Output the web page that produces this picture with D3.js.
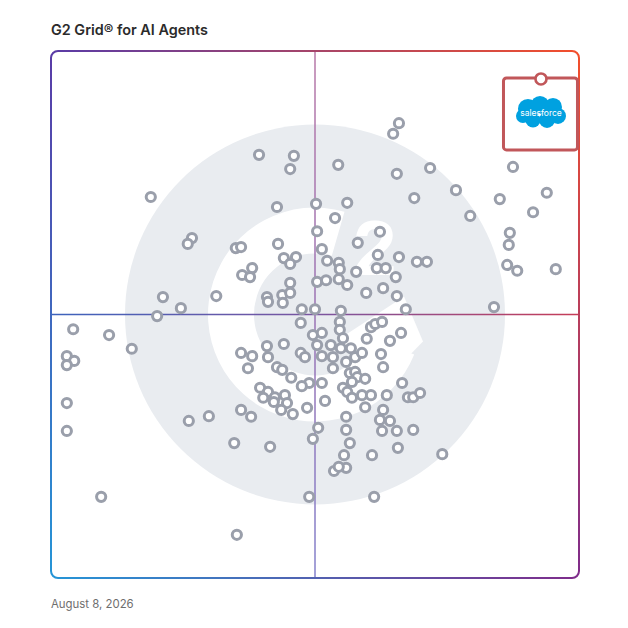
<!DOCTYPE html>
<html>
<head>
<meta charset="utf-8">
<script src="https://cdn.jsdelivr.net/npm/d3@7"></script>
<style>
  body { margin: 0; background: #fff; }
  svg { display: block; font-family: Inter, "Noto Sans", sans-serif; }
</style>
</head>
<body>
<svg id="chart" width="628" height="628"></svg>
<script>
// G2 grid: x = satisfaction, y = market presence (both 0-100)
const satisfaction = [
  65.9, 64.8, 39.4, 46.0, 45.3, 54.4, 71.8, 65.5, 87.5, 76.7,
  85.0, 93.9, 68.8, 18.9, 42.8, 50.2, 56.1, 79.4, 91.3, 53.8,
  50.4, 62.3, 86.9, 58.1, 26.7, 25.9, 35.0, 36.0, 43.0, 86.7,
  51.3, 65.9, 61.9, 69.3, 71.2, 44.1, 46.4, 45.3, 52.3, 54.5,
  54.7, 57.8, 61.7, 63.4, 65.3, 86.4, 88.3, 95.6, 38.1, 36.2,
  37.7, 45.3, 50.4, 52.1, 54.5, 56.1, 62.9, 59.7, 65.5, 67.2,
  83.9, 31.3, 21.2, 24.6, 20.1, 40.9, 41.1, 43.8, 45.3, 43.9,
  47.5, 50.0, 54.9, 4.2, 11.0, 15.3, 47.3, 54.7, 49.6, 51.3,
  54.7, 60.6, 61.4, 62.7, 66.3, 64.2, 3.0, 4.4, 3.0, 36.0,
  38.1, 40.9, 41.1, 44.1, 47.3, 48.1, 50.4, 53.0, 55.3, 54.9,
  56.8, 51.3, 53.4, 55.9, 57.6, 58.9, 53.4, 51.3, 59.8, 62.5,
  37.3, 42.8, 43.8, 45.5, 62.9, 56.6, 57.6, 58.0, 57.0, 59.5,
  48.9, 47.5, 55.3, 56.1, 57.0, 58.9, 60.6, 59.5, 63.6, 66.5,
  67.6, 68.6, 69.9, 51.9, 48.5, 39.6, 41.1, 40.2, 42.4, 44.3,
  42.2, 44.7, 43.6, 45.8, 36.0, 37.9, 3.0, 26.1, 29.9, 62.9,
  55.9, 62.3, 64.2, 50.6, 49.6, 55.9, 62.7, 65.5, 68.6, 3.0,
  34.7, 41.5, 56.6, 65.7, 55.5, 60.8, 74.1, 55.9, 53.6, 54.5,
  48.9, 61.2, 9.5, 35.2
];
const marketPresence = [
  86.3, 84.3, 80.3, 80.1, 77.6, 78.4, 77.8, 76.7, 78.0, 73.6,
  71.9, 73.1, 72.1, 72.3, 70.4, 71.0, 71.2, 68.7, 69.4, 68.3,
  65.8, 65.7, 65.5, 63.6, 64.5, 63.4, 62.6, 62.8, 63.4, 63.2,
  62.4, 60.9, 61.3, 60.0, 60.0, 60.7, 60.9, 59.6, 60.2, 59.8,
  58.6, 58.1, 58.8, 58.8, 57.1, 59.4, 58.3, 58.6, 58.8, 57.5,
  57.1, 56.0, 56.2, 56.5, 56.7, 55.6, 55.0, 54.1, 53.5, 51.0,
  51.4, 53.5, 53.3, 51.2, 49.7, 53.3, 52.4, 53.7, 54.1, 52.2,
  51.0, 51.0, 50.7, 47.2, 46.1, 43.5, 48.4, 48.6, 46.1, 46.5,
  47.1, 47.6, 48.2, 48.6, 46.5, 45.0, 42.1, 41.2, 40.4, 42.7,
  42.1, 44.0, 41.9, 44.4, 42.7, 41.9, 44.2, 44.2, 45.5, 43.6,
  43.6, 42.1, 41.9, 41.0, 41.9, 42.7, 39.8, 37.0, 45.4, 42.5,
  39.8, 40.0, 39.5, 38.0, 40.0, 38.9, 39.1, 38.1, 37.2, 37.8,
  37.0, 36.4, 36.1, 35.3, 34.2, 34.7, 34.7, 32.4, 34.7, 37.0,
  34.3, 34.3, 35.1, 33.6, 32.3, 36.1, 35.3, 34.2, 34.3, 34.7,
  33.4, 33.2, 31.9, 31.1, 31.9, 30.6, 33.2, 29.8, 30.7, 31.9,
  30.6, 30.0, 29.8, 28.5, 26.4, 28.1, 27.9, 27.9, 28.1, 27.9,
  25.6, 24.9, 25.6, 24.7, 23.3, 23.3, 23.5, 20.9, 20.3, 21.1,
  15.4, 15.4, 15.4, 8.2
];
const highlightName = 'salesforce';
const highlightScore = [92.8, 94.7];

const title = 'G2 Grid\u00AE for AI Agents';
const dateLabel = 'August 8, 2026';

const svg = d3.select('#chart');
const plotLeft = 51, plotRight = 579, plotTop = 51, plotBottom = 578;

const x = d3.scaleLinear().domain([0, 100]).range([plotLeft, plotRight]);
const y = d3.scaleLinear().domain([0, 100]).range([plotBottom, plotTop]);

const defs = svg.append('defs');

// frame gradients: blend of a top and a bottom horizontal gradient
const addGrad = (id, c1, c2, vertical) => {
  const g = defs.append('linearGradient').attr('id', id)
    .attr('x1', 0).attr('y1', 0)
    .attr('x2', vertical ? 0 : 1).attr('y2', vertical ? 1 : 0);
  g.append('stop').attr('offset', 0).attr('stop-color', c1);
  g.append('stop').attr('offset', 1).attr('stop-color', c2);
};
addGrad('gTop', '#5a3aa6', '#f5502a');
addGrad('gBottom', '#2597d8', '#7e2c8c');
addGrad('gFade', '#fff', '#000', true);

defs.append('mask').attr('id', 'fadeMask')
  .append('rect')
  .attr('x', plotLeft - 5).attr('y', plotTop - 5)
  .attr('width', plotRight - plotLeft + 10).attr('height', plotBottom - plotTop + 10)
  .attr('fill', 'url(#gFade)');

defs.append('mask').attr('id', 'frameMask')
  .attr('maskUnits', 'userSpaceOnUse')
  .attr('x', 0).attr('y', 0).attr('width', 628).attr('height', 628)
  .append('rect')
  .attr('x', plotLeft).attr('y', plotTop)
  .attr('width', plotRight - plotLeft).attr('height', plotBottom - plotTop)
  .attr('rx', 7)
  .attr('fill', 'none').attr('stroke', '#fff').attr('stroke-width', 2);

const hGrad = defs.append('linearGradient').attr('id', 'hLine')
  .attr('gradientUnits', 'userSpaceOnUse')
  .attr('x1', plotLeft).attr('x2', plotRight).attr('y1', 0).attr('y2', 0);
hGrad.append('stop').attr('offset', 0).attr('stop-color', '#3d63bc');
hGrad.append('stop').attr('offset', 0.5).attr('stop-color', '#7a55a0');
hGrad.append('stop').attr('offset', 1).attr('stop-color', '#c63d58');

const vGrad = defs.append('linearGradient').attr('id', 'vLine')
  .attr('gradientUnits', 'userSpaceOnUse')
  .attr('x1', 0).attr('x2', 0).attr('y1', plotTop).attr('y2', plotBottom);
vGrad.append('stop').attr('offset', 0).attr('stop-color', '#b879a8');
vGrad.append('stop').attr('offset', 0.5).attr('stop-color', '#9a72b4');
vGrad.append('stop').attr('offset', 1).attr('stop-color', '#8481cb');

// background G2 mark
const cx = x(50), cy = y(50);
const logo = svg.append('g').attr('transform', `translate(${cx},${cy})`);
logo.append('circle').attr('r', 190).attr('fill', '#e9ecf0');
const deg = Math.PI / 180;
logo.append('path')
  .attr('d', d3.arc()({ innerRadius: 61, outerRadius: 107, startAngle: 112 * deg, endAngle: 376 * deg }))
  .attr('fill', '#fff');
logo.append('path')
  .attr('d', 'M25,24 L89,-18 L108,27 L66,70 L45,52 Z')
  .attr('fill', '#fff');
logo.append('text')
  .attr('x', 60).attr('y', -40)
  .attr('text-anchor', 'middle')
  .attr('font-family', '"Liberation Sans", Arial, sans-serif')
  .attr('font-weight', 700)
  .attr('font-size', 78)
  .attr('fill', '#fff')
  .text('2');

// quadrant lines
svg.append('line')
  .attr('x1', plotLeft).attr('x2', plotRight).attr('y1', cy).attr('y2', cy)
  .attr('stroke', 'url(#hLine)').attr('stroke-width', 1.5);
svg.append('line')
  .attr('x1', cx).attr('x2', cx).attr('y1', plotTop).attr('y2', plotBottom)
  .attr('stroke', 'url(#vLine)').attr('stroke-width', 1.5);

// frame
const frame = svg.append('g').attr('mask', 'url(#frameMask)');
frame.append('rect')
  .attr('x', plotLeft - 2).attr('y', plotTop - 2)
  .attr('width', plotRight - plotLeft + 4).attr('height', plotBottom - plotTop + 4)
  .attr('fill', 'url(#gBottom)');
frame.append('rect')
  .attr('x', plotLeft - 2).attr('y', plotTop - 2)
  .attr('width', plotRight - plotLeft + 4).attr('height', plotBottom - plotTop + 4)
  .attr('fill', 'url(#gTop)')
  .attr('mask', 'url(#fadeMask)');

// products
const points = satisfaction.map((s, i) => ({ s, m: marketPresence[i] }));
svg.append('g').selectAll('circle')
  .data(points)
  .join('circle')
  .attr('cx', d => x(d.s))
  .attr('cy', d => y(d.m))
  .attr('r', 4.6)
  .attr('fill', '#fff')
  .attr('stroke', '#9a9fab')
  .attr('stroke-width', 3);

// highlighted product with logo card
const hx = x(highlightScore[0]), hy = y(highlightScore[1]);
const card = svg.append('g');
card.append('rect')
  .attr('x', hx - 37.5).attr('y', hy - 1)
  .attr('width', 74).attr('height', 72)
  .attr('rx', 3)
  .attr('fill', '#fff')
  .attr('stroke', '#c1575a')
  .attr('stroke-width', 3);
const cloud = card.append('g').attr('fill', '#00a1e0')
  .attr('transform', `translate(${hx},${hy + 34})`);
[[-13, -4, 10], [-1, -8, 9], [12, -6, 9], [17, 3, 8], [6, 7, 8], [-8, 7, 7.5], [-18, 3, 7]]
  .forEach(([dx, dy, r]) => cloud.append('circle').attr('cx', dx).attr('cy', dy).attr('r', r));
card.append('text')
  .attr('x', hx).attr('y', hy + 37)
  .attr('text-anchor', 'middle')
  .attr('font-size', 8.5)
  .attr('fill', '#fff')
  .text(highlightName);
card.append('circle')
  .attr('cx', hx).attr('cy', hy)
  .attr('r', 5.5)
  .attr('fill', '#fff')
  .attr('stroke', '#c1575a')
  .attr('stroke-width', 2.6);

// texts
svg.append('text')
  .attr('x', plotLeft).attr('y', 35)
  .attr('font-size', 14.4)
  .attr('font-weight', 600)
  .attr('fill', '#2b2b2b')
  .text(title);
svg.append('text')
  .attr('x', plotLeft).attr('y', 608)
  .attr('font-size', 11.4)
  .attr('fill', '#6e6e6e')
  .text(dateLabel);
</script>
</body>
</html>
